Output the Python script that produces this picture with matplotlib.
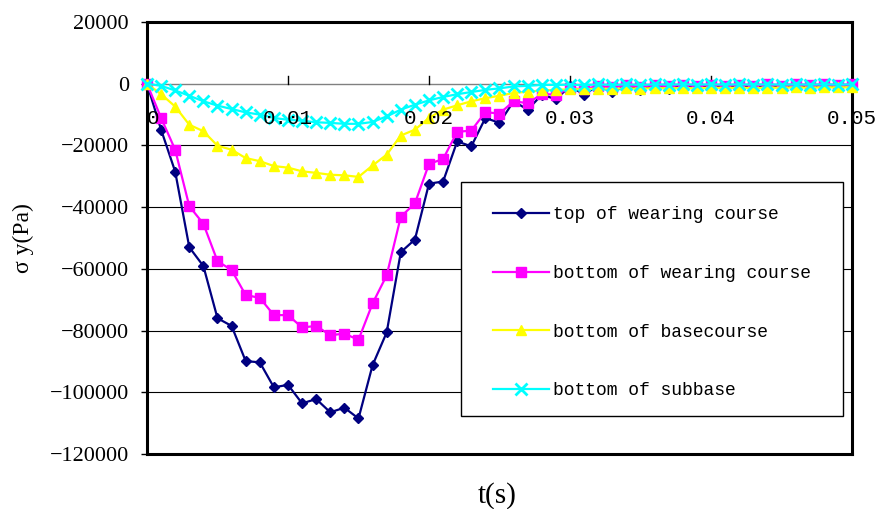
import numpy as np
import matplotlib
matplotlib.use('Agg')
import matplotlib.pyplot as plt
from matplotlib.patches import Rectangle

plt.rcParams.update({'font.family': 'Liberation Serif', 'font.size': 14})

# time steps 0 .. 0.05 s, every 0.001 s
t = [i / 1000 for i in range(51)]

top_wearing = [0, -14900, -28500, -53000, -59100, -76000, -78500, -89900, -90300, -98400,
               -97600, -103600, -102200, -106500, -105000, -108500, -91200, -80600, -54600, -50500,
               -32400, -31700, -18700, -20300, -11100, -12700, -5700, -8400, -3600, -5000,
               -800, -3500, -600, -2800, -500, -2000, -400, -1700, -300, -1500,
               -300, -1300, -300, -1200, -200, -1100, -200, -1000, -200, -900, -200]
bottom_wearing = [0, -11100, -21400, -39700, -45400, -57500, -60400, -68500, -69400, -75000,
                  -75000, -79000, -78500, -81500, -81000, -83000, -71200, -62100, -43100, -38800,
                  -26000, -24400, -15600, -15200, -9200, -9700, -5700, -6300, -3400, -3500,
                  -1500, -1800, -700, -1200, -500, -1000, -400, -900, -300, -800,
                  -300, -700, -300, -600, -200, -600, -200, -500, -200, -500, -200]
bottom_base = [0, -3400, -7400, -13300, -15400, -20100, -21400, -24100, -25100, -26700,
               -27200, -28400, -28900, -29500, -29700, -30200, -26500, -23000, -16800, -14900,
               -11100, -8400, -7000, -5700, -4700, -3900, -3000, -2600, -2200, -2000,
               -1800, -1800, -1600, -1700, -1500, -1600, -1400, -1500, -1400, -1500,
               -1300, -1400, -1300, -1400, -1300, -1300, -1200, -1300, -1200, -1200, -1200]
bottom_subbase = [0, -700, -2200, -3900, -5700, -7100, -8200, -9300, -10000, -11100,
                  -11700, -12000, -12500, -12700, -13000, -13000, -12400, -10600, -8400, -6800,
                  -5400, -4300, -3400, -2700, -2000, -1500, -900, -700, -400, -400,
                  -300, -500, -200, -400, -200, -400, -200, -300, -200, -300,
                  -200, -300, -200, -300, -200, -300, -200, -300, -200, -300, -200]

series = [
    ('top of wearing course', top_wearing, '#000080', 'D', 5),
    ('bottom of wearing course', bottom_wearing, '#ff00ff', 's', 7),
    ('bottom of basecourse', bottom_base, '#ffff00', '^', 7),
    ('bottom of subbase', bottom_subbase, '#00ffff', 'x', 9),
]

fig = plt.figure(figsize=(8.77, 5.09), dpi=100)
ax = fig.add_axes([0.1676, 0.1081, 0.8039, 0.8487])

for yv in range(-100000, 20001, 20000):
    if yv != 0:
        ax.axhline(yv, color='black', lw=0.8, zorder=1)
ax.axhline(0, color='#808080', lw=1.0, zorder=1)

for name, vals, col, mk, ms in series:
    ax.plot(t, vals, color=col, marker=mk, ms=ms, lw=1.6, mew=2 if mk == 'x' else 1,
            label=name, zorder=3, clip_on=False)

ax.set_xlim(0, 0.05)
ax.set_ylim(-120000, 20000)
ax.set_yticks(range(-120000, 20001, 20000))
ax.set_yticklabels([f'{v:d}'.replace('-', '\u2212') for v in range(-120000, 20001, 20000)])
ax.tick_params(axis='y', direction='out', length=4, width=1, pad=9, labelsize=16)

for s in ax.spines.values():
    s.set_linewidth(2.2)
    s.set_color('black')

# x tick labels sit under the zero line
ax.set_xticks([])
xt = [0, 0.01, 0.02, 0.03, 0.04, 0.05]
xl = ['0', '0.01', '0.02', '0.03', '0.04', '0.05']
for x, lab in zip(xt, xl):
    if 0 < x < 0.05:
        ax.plot([x, x], [0, 2500], color='black', lw=1, zorder=2)
    ax.annotate(lab, (x, 0), xytext=(0, -18), textcoords='offset points',
                ha='left' if x == 0 else 'center', va='top', fontsize=15,
                family='Liberation Mono', zorder=4)

fig.text(0.567, 0.027, 't(s)', ha='center', va='center', fontsize=21)
ax.set_ylabel('\u03c3 y(Pa)', fontsize=17)
ax.yaxis.set_label_coords(-0.16, 0.5)

# legend box drawn as its own frame, entries placed inside
ax.add_patch(Rectangle((0.4454, 0.087), 0.5418, 0.543, transform=ax.transAxes,
                       facecolor='white', edgecolor='black', lw=1.0, zorder=4.5))
leg = ax.legend(loc='upper left', bbox_to_anchor=(0.4908, 0.573), frameon=False,
                prop={'family': 'Liberation Mono', 'size': 13},
                labelspacing=2.3, handlelength=3.1, handletextpad=0.2,
                borderpad=0, borderaxespad=0)
leg.set_zorder(5)

plt.savefig('out.png', dpi=100)
